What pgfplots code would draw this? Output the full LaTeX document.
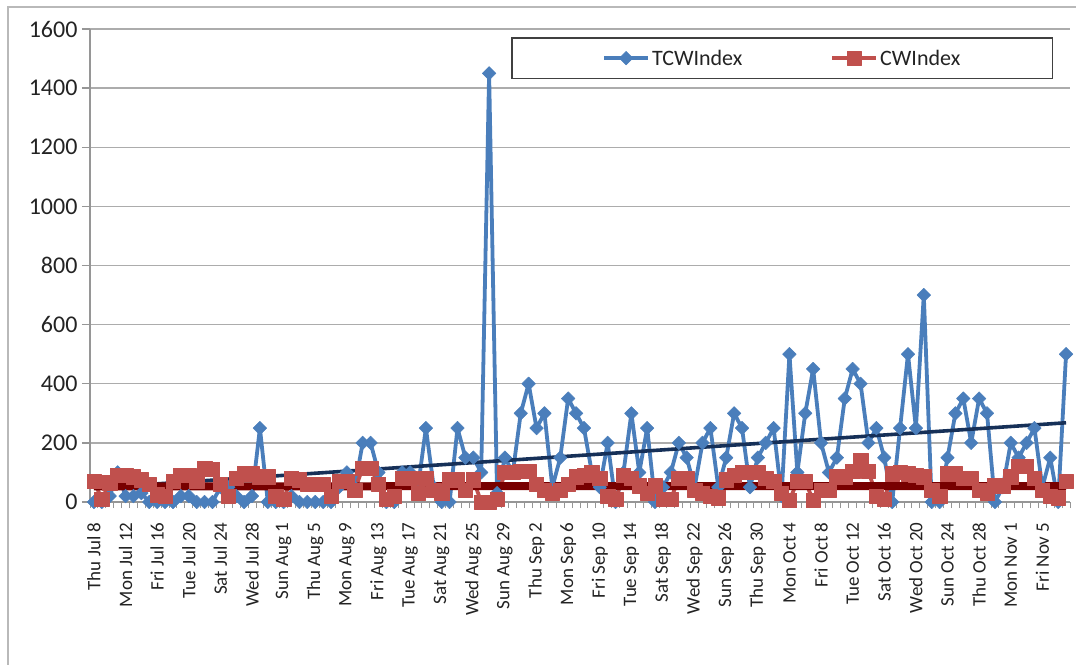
\documentclass[border=0pt]{standalone}
\usepackage{pgfplots}
\pgfplotsset{compat=1.18}
\usepackage{pgfplotstable}
\usepackage{fontspec}
\setmainfont{Carlito}

\definecolor{tcwblue}{RGB}{74,126,187}
\definecolor{cwred}{RGB}{192,80,77}
\definecolor{trendnavy}{RGB}{22,48,88}
\definecolor{trenddark}{RGB}{120,0,0}
\definecolor{gridgray}{RGB}{172,172,172}
\definecolor{axisgray}{RGB}{150,150,150}
\definecolor{labelgray}{RGB}{35,35,35}
\definecolor{framegray}{RGB}{185,185,185}

% day index (0 = Thu Jul 8), TCWIndex, CWIndex
\pgfplotstableread{
i tcw cw
0 0 70
1 0 10
2 20 65
3 100 90
4 20 90
5 20 85
6 30 75
7 0 60
8 0 25
9 0 20
10 0 70
11 20 90
12 20 90
13 0 70
14 0 115
15 0 110
16 50 60
17 50 20
18 20 80
19 0 95
20 20 95
21 250 85
22 0 85
23 0 20
24 0 10
25 20 80
26 0 75
27 0 60
28 0 60
29 0 60
30 0 20
31 50 70
32 100 70
33 50 40
34 200 115
35 200 115
36 100 60
37 0 10
38 0 20
39 100 80
40 100 80
41 50 30
42 250 80
43 50 40
44 0 30
45 0 75
46 250 75
47 150 40
48 150 75
49 100 0
50 1450 0
51 30 10
52 150 100
53 100 100
54 300 105
55 400 105
56 250 60
57 300 40
58 50 30
59 150 40
60 350 60
61 300 85
62 250 90
63 100 100
64 50 80
65 200 20
66 0 10
67 100 90
68 300 80
69 100 55
70 250 30
71 0 55
72 50 10
73 100 10
74 200 80
75 150 80
76 50 40
77 200 30
78 250 20
79 50 15
80 150 75
81 300 90
82 250 100
83 50 100
84 150 100
85 200 80
86 250 70
87 20 30
88 500 5
89 100 70
90 300 70
91 450 5
92 200 40
93 100 40
94 150 85
95 350 85
96 450 105
97 400 140
98 200 105
99 250 20
100 150 10
101 0 95
102 250 100
103 500 95
104 250 90
105 700 85
106 0 40
107 0 20
108 150 95
109 300 95
110 350 80
111 200 80
112 350 40
113 300 30
114 0 55
115 50 55
116 200 85
117 150 120
118 200 120
119 250 80
120 50 40
121 150 20
122 0 15
123 500 70
}\indexdata

\begin{document}
\begin{tikzpicture}
\begin{axis}[
  name=ax,
  scale only axis,
  width=980pt, height=473pt,
  xmin=-0.5, xmax=123.5,
  ymin=0, ymax=1600,
  clip=false,
  ytick={0,200,...,1600},
  xtick={0,4,...,120},
  xticklabels={Thu Jul 8, Mon Jul 12, Fri Jul 16, Tue Jul 20, Sat Jul 24,
    Wed Jul 28, Sun Aug 1, Thu Aug 5, Mon Aug 9, Fri Aug 13, Tue Aug 17,
    Sat Aug 21, Wed Aug 25, Sun Aug 29, Thu Sep 2, Mon Sep 6, Fri Sep 10,
    Tue Sep 14, Sat Sep 18, Wed Sep 22, Sun Sep 26, Thu Sep 30, Mon Oct 4,
    Fri Oct 8, Tue Oct 12, Sat Oct 16, Wed Oct 20, Sun Oct 24, Thu Oct 28,
    Mon Nov 1, Fri Nov 5},
  minor xtick={-0.5,0.5,...,123.5},
  axis lines*=left,
  axis line style={axisgray, line width=1.3pt, -},
  ymajorgrids,
  grid style={gridgray, line width=1.3pt},
  tick align=outside,
  major tick length=8pt,
  minor tick length=6pt,
  every major x tick/.append style={draw=none},
  every minor x tick/.append style={axisgray, line width=0.9pt},
  every major y tick/.append style={axisgray, line width=1.3pt},
  yticklabel style={font=\fontsize{24}{28}\selectfont, text=labelgray},
  xticklabel style={font=\fontsize{19}{23}\selectfont, text=labelgray,
    rotate=90, anchor=east},
  xticklabel shift=9pt,
  yticklabel shift=1pt,
  legend style={at={(0.9827,0.983)}, anchor=north east,
    draw=black!75, line width=1.5pt, fill=white,
    font=\fontsize{22}{26}\selectfont, text=labelgray,
    inner xsep=90pt, inner ysep=10pt,
    /tikz/every even column/.append style={column sep=86pt}},
  legend columns=2,
  legend image code/.code={\draw[mark repeat=2,mark phase=2,#1]
    plot coordinates {(0pt,0pt) (22pt,0pt) (44pt,0pt)};},
  /pgf/number format/assume math mode=true,
  /pgf/number format/1000 sep={},
]
\addplot[tcwblue, line width=3.8pt, line join=round,
  mark=square*, mark size=4.8pt,
  mark options={rotate=45, fill=tcwblue, draw=tcwblue, line width=0.5pt}]
  table[x=i, y=tcw]{\indexdata};
\addlegendentry{TCWIndex}
\addplot[cwred, line width=3.8pt, line join=round,
  mark=square*, mark size=7.2pt,
  mark options={fill=cwred, draw=cwred, line width=0.5pt}]
  table[x=i, y=cw]{\indexdata};
\addlegendentry{CWIndex}
% linear trend lines
\addplot[trendnavy, line width=3.6pt, forget plot] coordinates {(0,47) (123,268)};
\addplot[trenddark, line width=8pt, forget plot] coordinates {(0,53) (123,54)};
\end{axis}
\draw[framegray, line width=1.8pt]
  ([xshift=-82pt,yshift=22pt]ax.north west) rectangle
  ([xshift=60pt,yshift=-250pt]ax.south east);
\pgfresetboundingbox
\path[use as bounding box]
  ([xshift=-90pt,yshift=-162pt]ax.south west) rectangle
  ([xshift=6pt,yshift=29pt]ax.north east);
\end{tikzpicture}
\end{document}
